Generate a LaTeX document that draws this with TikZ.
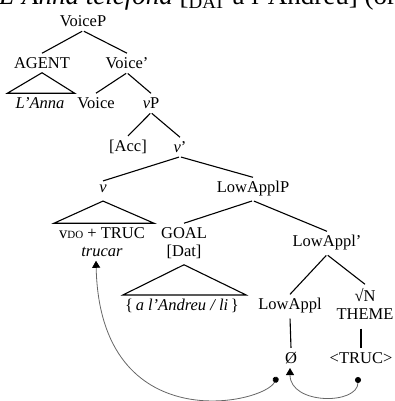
\documentclass[tikz,border=0pt]{standalone}
\usepackage{fontspec}
\setmainfont{Liberation Serif}
\usetikzlibrary{arrows.meta,positioning}
\tikzset{
	every node/.style={
		font=\fontsize{16.5}{18}\selectfont,
		inner xsep=1pt,
		inner ysep=4pt
	},
	branch/.style={line width=1.1pt, shorten <=1pt},
	roof/.style={line width=1.1pt, line join=miter},
	move/.style={
		black!60,
		line width=0.8pt,
		{Circle[length=6pt,color=black]}-{Triangle[width=8pt,length=7pt,color=black]}
	},
}

\begin{document}
\begin{tikzpicture}[x=1pt,y=-1pt]

\useasboundingbox (0,0) rectangle (394,401);
\clip (0,0) rectangle (394,401);

% caption line, cut by the page
\node[anchor=base west, inner sep=0pt, font=\fontsize{27}{30}\selectfont] (caption) at (-1,5) {\textit{L'Anna telefona} [\textsubscript{DAT} a l'Andreu] (or};

% the tree
\node (VoiceP) at (83,21) {VoiceP};
\node (AGENT) at (42,63) {AGENT};
\node (Voicebar) at (127,63) {Voice'};
\node (LAnna) at (40,103) {\textit{L'Anna}};
\node (Voice) at (96,103) {Voice};
\node (vP) at (151,103) {\textit{ν}P};
\node (Acc) at (128,147) {[Acc]};
\node (vbar) at (180,147) {\textit{ν}'};
\node (v) at (103,189) {\textit{ν}};
\node (LowApplP) at (253,189) {LowApplP};
\node[align=center] (vtrace) at (102,242) {v{\fontsize{11}{12}\selectfont DO} + TRUC\\\textit{trucar}};
\node[align=center] (GOALDat) at (184,243) {GOAL\\{[Dat]}};
\node (AndreuLi) at (182,306) {\{\,\textit{a l'Andreu / li}\,\}};
\node (LowApplbar) at (327,243) {LowAppl'};
\node (LowAppl) at (290,306) {LowAppl};
\node[align=center] (rootTheme) at (365,304) {√N\\THEME};
\node (null) at (291,358) {Ø};
\node (TRUC) at (361,358) {<TRUC>};

\coordinate (src1) at (277,377);
\coordinate (src2) at (358,377);

\draw[branch] (VoiceP.south) -- (AGENT.north);
\draw[branch] (VoiceP.south) -- (Voicebar.north);
\draw[roof] (AGENT.south) -- ([xshift=-7pt]LAnna.north west) -- ([xshift=9pt]LAnna.north east) -- cycle;
\draw[branch] (Voicebar.south) -- (Voice.north);
\draw[branch] (Voicebar.south) -- (vP.north);
\draw[branch] (vP.south) -- (Acc.north);
\draw[branch] (vP.south) -- (vbar.north);
\draw[branch] (vbar.south) -- (v.north);
\draw[branch] (vbar.south) -- (LowApplP.north);
\draw[roof] ([yshift=-4pt]v.south) -- ([xshift=-4pt]vtrace.north west) -- ([xshift=8pt]vtrace.north east) -- cycle;
\draw[branch] (LowApplP.south) -- (GOALDat.north);
\draw[branch] (LowApplP.south) -- (LowApplbar.north);
\draw[roof] ([yshift=-2pt]GOALDat.south) -- ([xshift=-1pt]AndreuLi.north west) -- ([xshift=6pt]AndreuLi.north east) -- cycle;
\draw[branch] (LowApplbar.south) -- (LowAppl.north);
\draw[branch] (LowApplbar.south) -- (rootTheme.north);
\draw[branch] (LowAppl.south) -- (null.north);
\draw[branch, shorten <=5pt] (rootTheme.south -| TRUC.north) -- (TRUC.north);

% movement arrows
\draw[move] (src1) .. controls (264,404) and (100,440) .. ([xshift=-6pt]vtrace.south);
\draw[move] (src2) .. controls (358,405) and (290,405) .. ([xshift=-1pt]null.south);

\end{tikzpicture}
\end{document}
